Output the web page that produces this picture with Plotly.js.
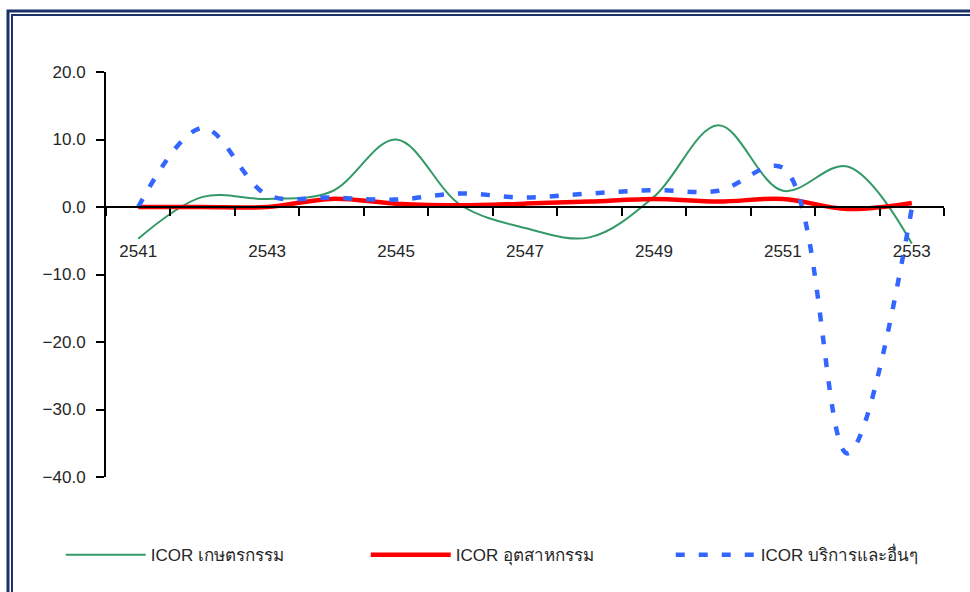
<!DOCTYPE html>
<html>
<head>
<meta charset="utf-8">
<script src="https://cdn.plot.ly/plotly-3.0.1.min.js"></script>
<style>html,body{margin:0;padding:0;background:#fff;}#chart{width:970px;height:592px;}</style>
</head>
<body>
<div id="chart"></div>
<script>
const years = [2541, 2542, 2543, 2544, 2545, 2546, 2547, 2548, 2549, 2550, 2551, 2552, 2553];
const agriculture = [-4.7, 1.5, 1.2, 2.3, 10.0, 0.3, -3.1, -4.5, 1.5, 12.1, 2.4, 6.0, -5.4];
const industry = [0.0, 0.0, 0.0, 1.2, 0.5, 0.25, 0.5, 0.8, 1.2, 0.8, 1.2, -0.3, 0.6];
const services = [0.0, 11.7, 1.8, 1.4, 1.1, 2.0, 1.4, 2.0, 2.5, 2.4, 5.8, -36.5, -0.2];
const seriesNames = ['ICOR เกษตรกรรม', 'ICOR อุตสาหกรรม', 'ICOR บริการและอื่นๆ'];
const labelYears = years.filter((y, i) => i % 2 === 0);
const boundaries = years.map(y => y - 0.5).concat([years[years.length - 1] + 0.5]);

const font = {family: 'Liberation Sans, Arial, sans-serif', size: 17, color: '#262626'};

const traces = [
  {x: years, y: agriculture, name: seriesNames[0], type: 'scatter', mode: 'lines',
   line: {color: '#339966', width: 2, shape: 'spline', smoothing: 1}},
  {x: years, y: industry, name: seriesNames[1], type: 'scatter', mode: 'lines',
   line: {color: '#ff0000', width: 4.5, shape: 'spline', smoothing: 1}},
  {x: years, y: services, name: seriesNames[2], type: 'scatter', mode: 'lines',
   line: {color: '#3366ff', width: 4.5, shape: 'spline', smoothing: 1, dash: '9px,14px'}}
];

const layout = {
  width: 970, height: 592,
  margin: {l: 106, r: 26, t: 72, b: 115, autoexpand: false},
  paper_bgcolor: '#ffffff', plot_bgcolor: '#ffffff',
  font: font,
  showlegend: true,
  legend: {orientation: 'h', x: -0.054, xanchor: 'left', y: -0.193, yanchor: 'middle',
           font: font, itemwidth: 80, entrywidth: 210, traceorder: 'normal'},
  xaxis: {
    range: [boundaries[0], boundaries[boundaries.length - 1]],
    anchor: 'free', position: 270 / 405,
    showline: true, linecolor: '#000', linewidth: 2,
    showgrid: false, zeroline: false,
    tickmode: 'array', tickvals: labelYears, ticktext: labelYears.map(String),
    ticks: '', ticklabelstandoff: 29, tickfont: font,
    minor: {tickmode: 'array', tickvals: boundaries, ticks: 'outside', ticklen: 8, tickwidth: 2, tickcolor: '#000', showgrid: false}
  },
  yaxis: {
    range: [-40, 20], domain: [0, 1],
    tickmode: 'linear', tick0: -40, dtick: 10, tickformat: '.1f',
    showline: true, linecolor: '#000', linewidth: 2,
    ticks: 'outside', ticklen: 8, tickwidth: 2, tickcolor: '#000',
    showgrid: false, zeroline: false, tickfont: font, ticklabelstandoff: 7
  },
  shapes: [
    {type: 'rect', xref: 'paper', yref: 'paper', x0: (8 - 106) / 838, x1: 1.2, y0: -0.5, y1: (477 - 11) / 405,
     line: {color: '#1a3268', width: 3}},
    {type: 'rect', xref: 'paper', yref: 'paper', x0: (12 - 106) / 838, x1: 1.2, y0: -0.5, y1: (477 - 15) / 405,
     line: {color: '#1a3268', width: 2}}
  ]
};

Plotly.newPlot('chart', traces, layout, {displayModeBar: false, staticPlot: true});
</script>
</body>
</html>
